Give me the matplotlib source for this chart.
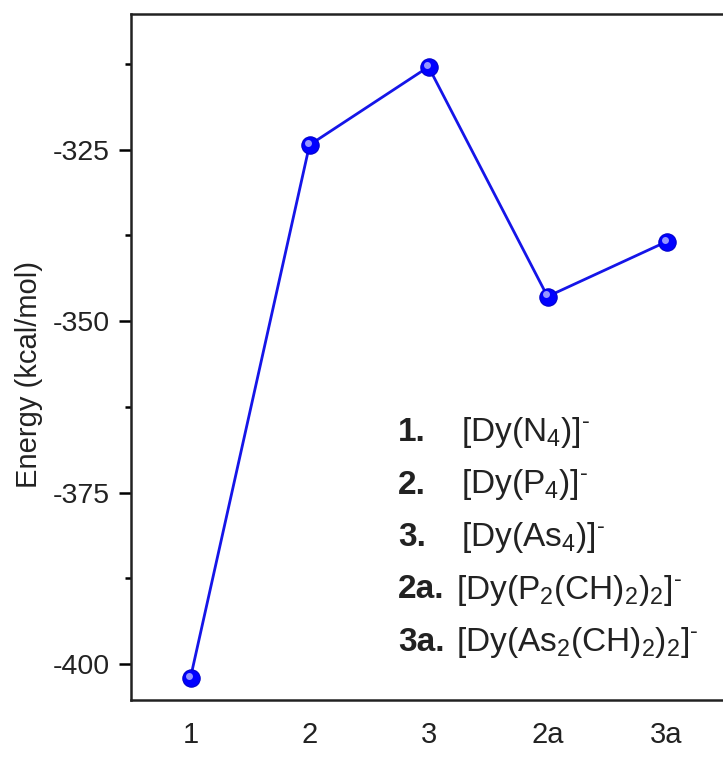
import matplotlib
matplotlib.use('Agg')
import matplotlib.pyplot as plt
from matplotlib import transforms
from matplotlib.ticker import MultipleLocator
import numpy as np

plt.rcParams['font.family'] = 'Liberation Sans'
plt.rcParams['mathtext.fontset'] = 'custom'
plt.rcParams['mathtext.rm'] = 'Liberation Sans'
plt.rcParams['mathtext.it'] = 'Liberation Sans:italic'
plt.rcParams['mathtext.bf'] = 'Liberation Sans:bold'
plt.rcParams['axes.unicode_minus'] = False

# data
labels = ['1', '2', '3', '2a', '3a']
energy = [-402.0, -324.3, -312.9, -346.4, -338.4]

key_ids = ['1.', '2.', '3.', '2a.', '3a.']
key_names = [r'[Dy(N$_4$)]$^{\text{-}}$',
             r'[Dy(P$_4$)]$^{\text{-}}$',
             r'[Dy(As$_4$)]$^{\text{-}}$',
             r'[Dy(P$_2$(CH)$_2$)$_2$]$^{\text{-}}$',
             r'[Dy(As$_2$(CH)$_2$)$_2$]$^{\text{-}}$']

fig = plt.figure(figsize=(7.23, 7.58), dpi=100)
ax = fig.add_axes([0.1812, 0.0765, 0.823, 0.905])

x = np.arange(1, len(labels) + 1)
ax.plot(x, energy, '-', color='#1515e8', lw=2.0, zorder=2)
ax.plot(x, energy, 'o', color='#0000ff', ms=12.5, mec='#0000cc', mew=0.8, zorder=3)
hl = transforms.offset_copy(ax.transData, fig=fig, x=-1.0, y=1.5, units='points')
ax.plot(x, energy, 'o', color='#a8a8ff', ms=5, mew=0, alpha=0.9, transform=hl, zorder=4)

ax.set_xlim(0.5, 5.5)
ax.set_ylim(-405.25, -305.2)
ax.set_xticks(x)
ax.set_xticklabels(labels)
ax.yaxis.set_major_locator(MultipleLocator(25))
ax.yaxis.set_minor_locator(MultipleLocator(12.5))
ax.tick_params(axis='x', length=0, pad=15, labelsize=21, colors='#222222')
ax.tick_params(axis='y', which='major', length=8.5, width=1.8, pad=7, labelsize=20.5,
               labelcolor='#222222')
ax.tick_params(axis='y', which='minor', length=4.5, width=1.8)
for s in ['left', 'bottom', 'top']:
    ax.spines[s].set_linewidth(1.8)
    ax.spines[s].set_color('#222222')
ax.spines['right'].set_visible(False)
ax.set_ylabel('Energy (kcal/mol)', fontsize=21, color='#222222')
ax.yaxis.set_label_coords(-0.148, 0.474)

baselines = [441, 493.5, 546, 598.5, 651]
name_x = [461, 461, 461, 456, 456]
for k, nm, by, nx in zip(key_ids, key_names, baselines, name_x):
    fig.text(398 / 723, 1 - by / 758, k, fontsize=24, fontweight='bold',
             ha='left', va='baseline', color='#222222')
    fig.text(nx / 723, 1 - by / 758, nm, fontsize=24, ha='left', va='baseline',
             color='#222222')

fig.savefig('out.png', dpi=100)
